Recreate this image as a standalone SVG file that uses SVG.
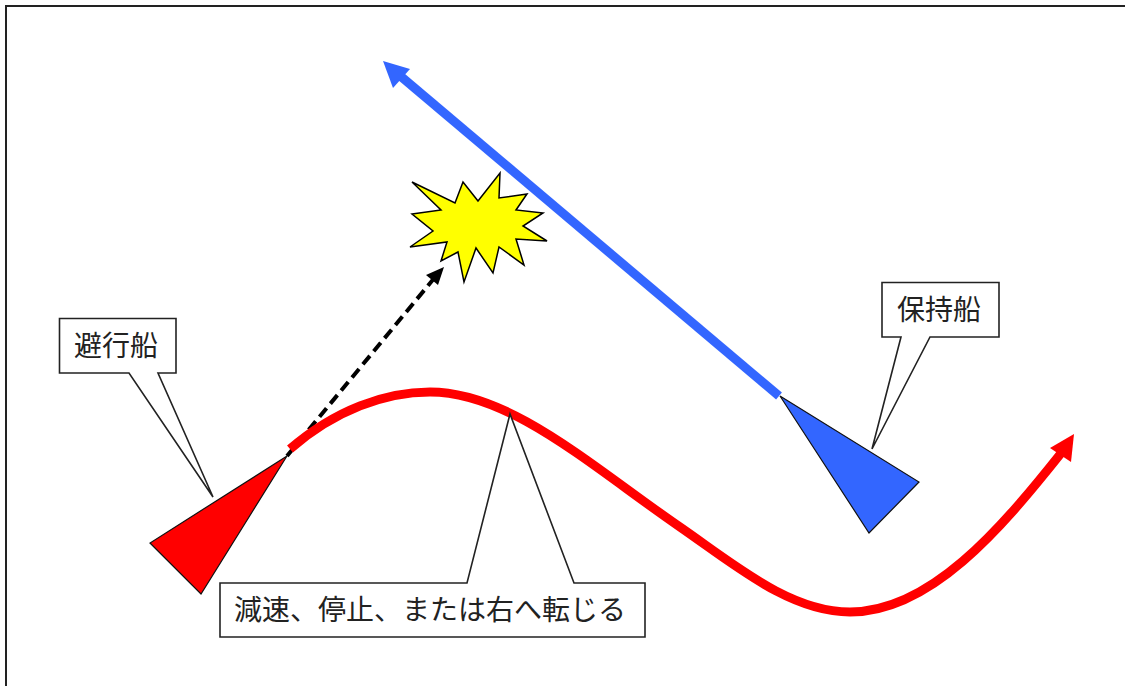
<svg xmlns="http://www.w3.org/2000/svg" width="1125" height="686" viewBox="0 0 1125 686">
<style>
.lbl{font-family:"Noto Sans CJK JP","Noto Sans CJK SC",sans-serif;font-size:28px;fill:#222}
.call{fill:#fff;stroke:#222;stroke-width:1.6;stroke-linejoin:miter}
.ship{stroke:#111;stroke-width:1.2;stroke-linejoin:miter}
</style>
<rect width="1125" height="686" fill="#fff"/>
<path d="M6,686V6H1125" fill="none" stroke="#222" stroke-width="2"/>
<g id="connectors">
<path id="blue-course" d="M779,396L398,74" fill="none" stroke="#3366ff" stroke-width="9"/>
<polygon points="383,61 410,69 393,88" fill="#3366ff"/>
<path id="give-way-course" d="M287,456L436,276" fill="none" stroke="#000" stroke-width="4" stroke-dasharray="11 6"/>
<polygon points="444,267 426,275 438,285" fill="#000"/>
<path id="red-course" d="M290,449C335,410 385,392 430,392C510,392 590,465 680,527C735,565 790,612 850,612C930,612 1000,530 1062,452" fill="none" stroke="#f00" stroke-width="9"/>
<polygon points="1074,434 1050,448 1071,462" fill="#f00"/>
</g>
<g id="burst">
<polygon points="412,182 455,203 463,182 478,201 500,173 499,198 527,194 516,210 543,213 523,226 547,241 516,239 524,265 499,247 493,273 476,248 464,282 458,252 441,261 447,242 410,247 433,231 412,214 441,210" fill="#ffff00" stroke="#000" stroke-width="1.500"/>
</g>
<g id="give-way-ship"><polygon class="ship" points="287,456 150,543 201,594" fill="#f00"/></g>
<g id="stand-on-ship"><polygon class="ship" points="780,396 919,482 869,533" fill="#3366ff"/></g>
<g id="label-give-way">
<path class="call" d="M59.500,318.500H176V373H158L213,497L129,373H59.500Z"/>
<text class="lbl" x="74" y="356">避行船</text>
</g>
<g id="label-stand-on">
<path class="call" d="M882,282.500H999V337H930L872,449L901,337H882Z"/>
<text class="lbl" x="897" y="320">保持船</text>
</g>
<g id="label-action">
<path class="call" d="M220,583H467L510,414L574,583H645V637H220Z"/>
<text class="lbl" x="234" y="620">減速、停止、または右へ転じる</text>
</g>
</svg>
